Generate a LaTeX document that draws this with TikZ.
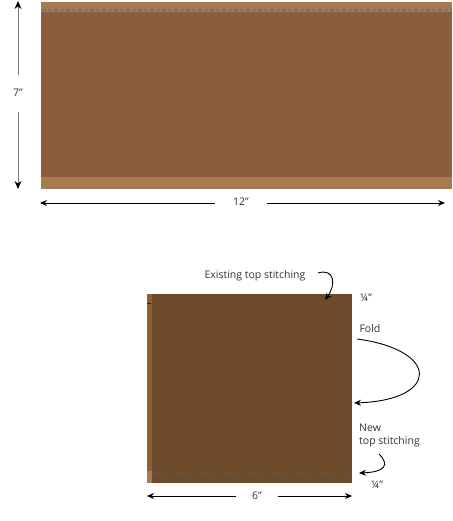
\documentclass[tikz,border=0pt]{standalone}
\usepackage{fontspec}
\setmainfont{Open Sans}
\usetikzlibrary{arrows.meta}
\definecolor{bandlight}{HTML}{A87A4F}
\definecolor{bodymid}{HTML}{8A5D3C}
\definecolor{sqbody}{HTML}{6F4A2A}
\definecolor{sqstrip}{HTML}{8C5E3A}
\definecolor{stitchA}{HTML}{756E68}
\definecolor{stitchB}{HTML}{5A5754}
\definecolor{dimgray}{HTML}{7A7A7A}
\definecolor{txt}{HTML}{333333}
\tikzset{
  lbl/.style={font=\fontsize{10.5}{12.5}\selectfont, text=txt, inner sep=0pt},
  callout/.style={-{Stealth[length=7pt,width=6pt]}, line width=0.9pt},
  stitch/.style={dash pattern=on 3.5pt off 2.5pt, line width=1.8pt}
}
\begin{document}
\begin{tikzpicture}[x=1pt,y=-1pt]
\useasboundingbox (0,0) rectangle (452,521);
% top piece
\fill[bodymid] (41,2) rectangle (452,189);
\fill[bandlight] (41,2) rectangle (452,12.5);
\fill[bandlight] (41,177) rectangle (452,189);
\draw[stitchA, stitch] (42,10) -- (452,10);
% 7" dimension
\node[lbl] (seven) at (18,93) {7"};
\coordinate (vtop) at (18,1);
\coordinate (vbot) at (18,189);
\draw[dimgray, line width=1pt, shorten <=5pt, shorten >=14pt] (vtop) -- (seven);
\draw[dimgray, line width=1pt, shorten <=15pt, shorten >=5pt] (seven) -- (vbot);
\fill[black] (vtop) -- ++(-3.5,8) -- ++(3.5,-2.5) -- ++(3.5,2.5) -- cycle;
\fill[black] (vbot) -- ++(-3.5,-8) -- ++(3.5,2.5) -- ++(3.5,-2.5) -- cycle;
% 12" dimension
\node[lbl] (twelve) at (241,202) {12"};
\coordinate (hl) at (40,203);
\coordinate (hr) at (445,203);
\draw[callout] (twelve.west) ++(-18,1) -- (hl);
\draw[callout] (twelve.east) ++(18,1) -- (hr);
% bottom square
\fill[sqbody] (147,294) rectangle (352,483);
\fill[sqstrip] (147,294) rectangle (152,483);
\fill[bandlight] (147,471) rectangle (152,483);
\draw[stitchB, stitch, line width=1.5pt, dash pattern=on 3pt off 3pt] (152,303.5) -- (351,303.5);
\draw[stitchB, stitch, line width=1.5pt, dash pattern=on 3pt off 3pt] (152,474) -- (351,474);
\draw[black!85, line width=0.8pt] (147,303.5) -- (151,303.5);
% labels
\node[lbl] (exist) at (255,276) {Existing top stitching};
\node[lbl] (qtop) at (366,298) {¼"};
\node[lbl] (fold) at (370,329) {Fold};
\node[lbl, align=left, anchor=north west] (newst) at (359,424) {New\\top stitching};
\node[lbl] (qbot) at (377,485) {¼"};
\coordinate (e1) at (318,273);
\coordinate (e2) at (325,300);
\draw[callout] (e1) .. controls (335,268) and (336,285) .. (e2);
\coordinate (f1) at (357,339);
\coordinate (f2) at (354,403);
\draw[callout] (f1) .. controls (440,350) and (440,400) .. (f2);
\coordinate (n1) at (379,454);
\coordinate (n2) at (359,473);
\draw[callout] (n1) .. controls (390,465) and (385,472) .. (n2);
% 6" dimension
\node[lbl] (six) at (257,496) {6"};
\coordinate (sl) at (147,496);
\coordinate (sr) at (352,496);
\draw[callout] (six.west) ++(-16,0) -- (sl);
\draw[callout] (six.east) ++(16,0) -- (sr);
\end{tikzpicture}
\end{document}
